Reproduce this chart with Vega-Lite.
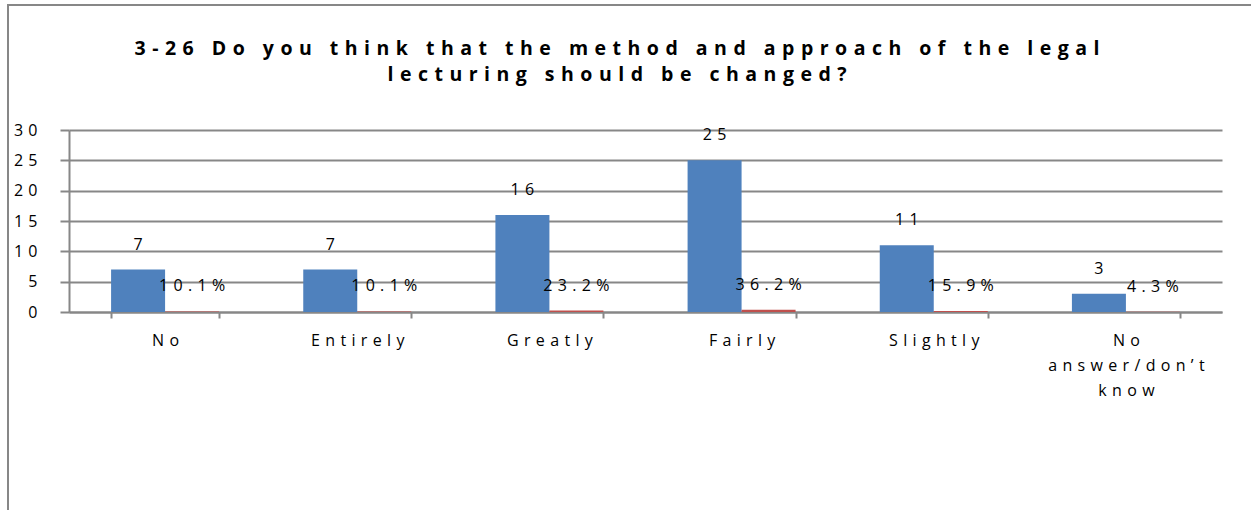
{
  "$schema": "https://vega.github.io/schema/vega-lite/v6.json",
  "autosize": "none",
  "width": 1250,
  "height": 512,
  "padding": {"left": 8, "top": 5, "right": 0, "bottom": 0},
  "config": {
    "font": "Open Sans",
    "view": {"stroke": "#878787", "strokeWidth": 2, "fill": null},
    "axis": {
      "domainColor": "#878787",
      "domainWidth": 2,
      "tickColor": "#878787",
      "tickWidth": 2,
      "gridColor": "#878787",
      "gridWidth": 2,
      "labelColor": "#000000",
      "labelFont": "Open Sans",
      "labelFontSize": 16,
      "title": null
    }
  },
  "title": {
    "text": {"expr": "[join(split('3-26 Do you think that the method and approach of the legal', ''), '\u2004'), join(split('lecturing should be changed?', ''), '\u2004')]"},
    "orient": "top",
    "anchor": "middle",
    "frame": "group",
    "baseline": "top",
    "offset": -80,
    "dx": -16,
    "font": "Open Sans",
    "fontSize": 19.5,
    "fontWeight": "bold",
    "color": "#000000",
    "lineHeight": 26
  },
  "data": {
    "values": [
      {"answer": "No", "Number": 7, "Percent": 0.101},
      {"answer": "Entirely", "Number": 7, "Percent": 0.101},
      {"answer": "Greatly", "Number": 16, "Percent": 0.232},
      {"answer": "Fairly", "Number": 25, "Percent": 0.362},
      {"answer": "Slightly", "Number": 11, "Percent": 0.159},
      {"answer": "No answer/don’t know", "Number": 3, "Percent": 0.043}
    ]
  },
  "transform": [
    {"fold": ["Number", "Percent"], "as": ["series", "value"]}
  ],
  "encoding": {
    "x": {
      "field": "answer",
      "type": "nominal",
      "sort": null,
      "scale": {"range": [61, 1214], "paddingInner": 0.438, "paddingOuter": 0.219},
      "axis": {
        "orient": "bottom",
        "offset": -205,
        "labelAngle": 0,
        "tickBand": "extent",
        "tickSize": 6,
        "labelPadding": 14,
        "labelLineHeight": 25,
        "labelLimit": 0,
        "labelBaseline": "top",
        "labelExpr": "length(datum.label) > 12 ? [join(split(split(datum.label, ' ')[0], ''), '\u2004'), join(split(split(datum.label, ' ')[1], ''), '\u2004'), join(split(split(datum.label, ' ')[2], ''), '\u2004')] : join(split(datum.label, ''), '\u2004')"
      }
    },
    "xOffset": {
      "field": "series",
      "type": "nominal",
      "scale": {"domain": ["Number", "Percent"], "paddingInner": 0, "paddingOuter": 0}
    },
    "y": {
      "field": "value",
      "type": "quantitative",
      "scale": {"domain": [0, 30], "range": [307, 125], "nice": false, "zero": true},
      "axis": {
        "orient": "left",
        "offset": -61,
        "values": [0, 5, 10, 15, 20, 25, 30],
        "tickSize": 9,
        "labelPadding": 23,
        "grid": true,
        "labelExpr": "join(split(datum.label, ''), '\u2004')"
      }
    }
  },
  "layer": [
    {
      "mark": {"type": "bar"},
      "encoding": {
        "color": {
          "field": "series",
          "type": "nominal",
          "scale": {"domain": ["Number", "Percent"], "range": ["#4f81bd", "#c0504d"]},
          "legend": null
        }
      }
    },
    {
      "mark": {
        "type": "text",
        "baseline": "middle",
        "align": "center",
        "dy": -25,
        "fontSize": 16,
        "color": "#000000",
        "text": {"expr": "join(split(datum.series === 'Percent' ? format(datum.value, '.1%') : format(datum.value, 'd'), ''), '\u2004')"}
      }
    }
  ]
}
